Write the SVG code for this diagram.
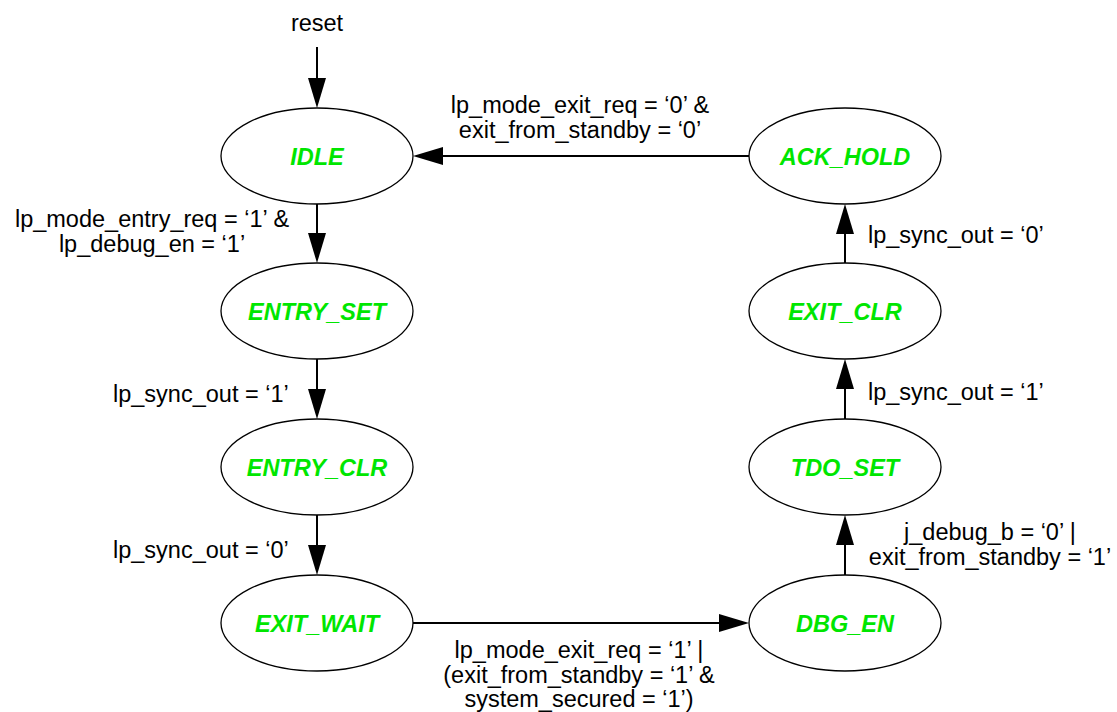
<svg xmlns="http://www.w3.org/2000/svg" width="1117" height="712" viewBox="0 0 1117 712">
<defs>
<marker id="ah" markerUnits="userSpaceOnUse" markerWidth="30" markerHeight="18" refX="1" refY="9" orient="auto">
<path d="M0,0 L30,9 L0,18 z" fill="#000"/>
</marker>
<style>
.st ellipse{fill:#fff;stroke:#000;stroke-width:1.3}
.st text{font-family:"Liberation Sans",Arial,sans-serif;font-size:23.5px;font-weight:bold;font-style:italic;fill:#00e600;text-anchor:middle}
.lbl{font-family:"Liberation Sans",Arial,sans-serif;font-size:23.5px;fill:#000}
.c{text-anchor:middle}
#connectors path{fill:none;stroke:#000;stroke-width:2;marker-end:url(#ah)}
</style>
</defs>
<rect width="1117" height="712" fill="#fff"/>
<g id="connectors">
<path d="M317,47 V79"/>
<path d="M317,204 V234"/>
<path d="M317,359 V390"/>
<path d="M317,515 V546"/>
<path d="M413,623 H720"/>
<path d="M845,575 V544"/>
<path d="M845,419 V388"/>
<path d="M845,263 V233"/>
<path d="M749,156 H442"/>
</g>
<g id="IDLE" class="st"><ellipse cx="317" cy="156" rx="96" ry="48"/><text x="317" y="164.5">IDLE</text></g>
<g id="ENTRY_SET" class="st"><ellipse cx="317" cy="311" rx="96" ry="48"/><text x="317" y="319.5">ENTRY_SET</text></g>
<g id="ENTRY_CLR" class="st"><ellipse cx="317" cy="467" rx="96" ry="48"/><text x="317" y="475.5">ENTRY_CLR</text></g>
<g id="EXIT_WAIT" class="st"><ellipse cx="317" cy="623" rx="96" ry="48"/><text x="317" y="631.5">EXIT_WAIT</text></g>
<g id="DBG_EN" class="st"><ellipse cx="845" cy="623" rx="96" ry="48"/><text x="845" y="631.5">DBG_EN</text></g>
<g id="TDO_SET" class="st"><ellipse cx="845" cy="467" rx="96" ry="48"/><text x="845" y="475.5">TDO_SET</text></g>
<g id="EXIT_CLR" class="st"><ellipse cx="845" cy="311" rx="96" ry="48"/><text x="845" y="319.5">EXIT_CLR</text></g>
<g id="ACK_HOLD" class="st"><ellipse cx="845" cy="156" rx="96" ry="48"/><text x="845" y="164.5">ACK_HOLD</text></g>
<g id="labels">
<text class="lbl c" x="317" y="31">reset</text>
<text class="lbl c" x="152" y="227">lp_mode_entry_req = ‘1’ &amp;</text>
<text class="lbl c" x="152" y="252">lp_debug_en = ‘1’</text>
<text class="lbl" x="113" y="402">lp_sync_out = ‘1’</text>
<text class="lbl" x="113" y="558">lp_sync_out = ‘0’</text>
<text class="lbl c" x="580" y="113">lp_mode_exit_req = ‘0’ &amp;</text>
<text class="lbl c" x="580" y="138">exit_from_standby = ‘0’</text>
<text class="lbl" x="868" y="243">lp_sync_out = ‘0’</text>
<text class="lbl" x="868" y="400">lp_sync_out = ‘1’</text>
<text class="lbl c" x="990" y="540">j_debug_b = ‘0’ |</text>
<text class="lbl c" x="990" y="565">exit_from_standby = ‘1’</text>
<text class="lbl c" x="579" y="658">lp_mode_exit_req = ‘1’ |</text>
<text class="lbl c" x="579" y="683">(exit_from_standby = ‘1’ &amp;</text>
<text class="lbl c" x="579" y="707">system_secured = ‘1’)</text>
</g>
</svg>
